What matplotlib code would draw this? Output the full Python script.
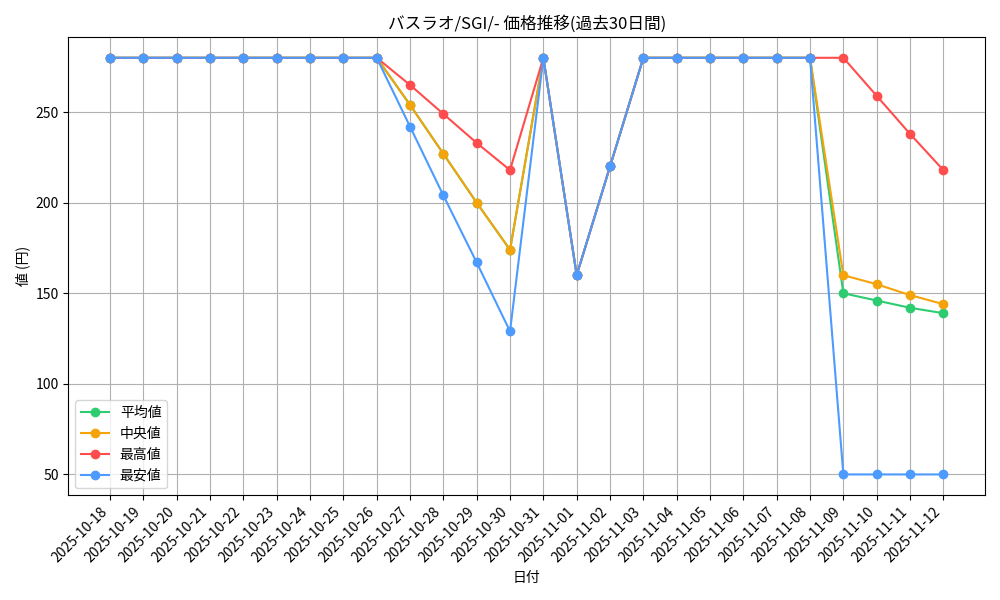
import matplotlib
matplotlib.use("Agg")
import matplotlib.pyplot as plt
import pandas as pd

plt.rcParams['font.family'] = ['Noto Sans CJK JP', 'DejaVu Sans']

dates = pd.date_range("2025-10-18", "2025-11-12").strftime("%Y-%m-%d").tolist()

avg_vals = [280]*9 + [254, 227, 200, 174, 280, 160, 220] + [280]*6 + [150, 146, 142, 139]
median_vals = [280]*9 + [254, 227, 200, 174, 280, 160, 220] + [280]*6 + [160, 155, 149, 144]
max_vals = [280]*9 + [265, 249, 233, 218, 280, 160, 220] + [280]*7 + [259, 238, 218]
min_vals = [280]*9 + [242, 204, 167, 129, 280, 160, 220] + [280]*6 + [50, 50, 50, 50]

fig, ax = plt.subplots(figsize=(10, 6), dpi=100)
ax.plot(dates, avg_vals, marker='o', color='#2ecc71', label='平均値')
ax.plot(dates, median_vals, marker='o', color='#f5a30a', label='中央値')
ax.plot(dates, max_vals, marker='o', color='#ff4d4d', label='最高値')
ax.plot(dates, min_vals, marker='o', color='#4d9bff', label='最安値')

ax.set_title('バスラオ/SGI/- 価格推移(過去30日間)')
ax.set_xlabel('日付')
ax.set_ylabel('値 (円)')
ax.grid(True)
ax.legend(loc='lower left')
plt.xticks(rotation=45, ha='right')
plt.tight_layout()
plt.savefig('out.png')
